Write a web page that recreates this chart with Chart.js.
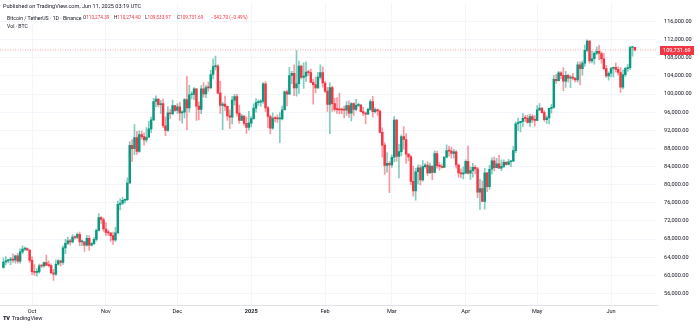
<!DOCTYPE html>
<html>
<head>
<meta charset="utf-8">
<title>Bitcoin / TetherUS 1D</title>
<script src="https://cdn.jsdelivr.net/npm/chart.js@4.4.1/dist/chart.umd.min.js"></script>
<style>
  body { margin: 0; background: #fff; font-family: Roboto, "Liberation Sans", sans-serif; color: #131722; }
  #wrap { position: relative; width: 700px; height: 330px; overflow: hidden; }
  #chart { position: absolute; left: 0; top: 0; }
  .published { position: absolute; left: 3px; top: 3px; font-size: 5.6px; white-space: nowrap; }
  .legend span { position: absolute; top: 14px; font-size: 5.2px; line-height: 8px; white-space: nowrap; }
  .legend .ohlc { font-size: 4.7px; }
  .legend .v { color: #f23645; font-style: normal; }
  .legend .vol { top: 22px; }
  .footer { position: absolute; left: 3px; top: 315px; font-size: 5.6px; white-space: nowrap; }
  .footer b { font-weight: 900; letter-spacing: -0.3px; margin-right: 2px; }
</style>
</head>
<body>
<div id="wrap">
  <canvas id="chart" width="700" height="330"></canvas>
  <div class="published">Published on TradingView.com, Jun 11, 2025 03:19 UTC</div>
  <div class="legend">
    <span style="left:7px">Bitcoin / TetherUS · 1D · Binance</span>
    <span class="ohlc" style="left:83px">O<i class="v">110,274.39</i></span>
    <span class="ohlc" style="left:114px">H<i class="v">110,274.40</i></span>
    <span class="ohlc" style="left:145px">L<i class="v">109,533.97</i></span>
    <span class="ohlc" style="left:177px">C<i class="v">109,731.69</i></span>
    <span class="ohlc v" style="left:211px">−542.70 (−0.49%)</span>
    <span class="vol" style="left:7px">Vol · BTC</span>
  </div>
  <div class="footer"><b>TV</b>TradingView</div>
</div>
<script>
// BTCUSDT daily candles, 2024-09-19 .. 2025-06-11
const firstDay = '2024-09-19';

const opens = [
  61760, 62950, 63190, 63350, 63580, 63340, 64300, 63140, 65180, 65790, 65890, 65600,
  63300, 60810, 60650, 60750, 62080, 62060, 62820, 62220, 62130, 60580, 60270, 62450, 63190, 62850, 66050, 67040, 67610, 67400, 68420, 68360, 69030, 67380, 67420, 66680, 68160, 66640, 67010, 67930, 69910, 72720, 72330,
  70220, 69480, 69370, 68750, 67810, 69380, 75640, 75900, 76550, 76680, 80370, 88700, 87950, 90380, 87320, 91060, 90590, 89850, 90460, 92310, 94290, 98350, 98890, 97670, 97900, 93010, 91970, 95860, 95640, 97460,
  96410, 97190, 95840, 96000, 98770, 96950, 99830, 99920, 101170, 97330, 96590, 101130, 100000, 101420, 101370, 104300, 106030, 106140, 100200, 97460, 97780, 97290, 95190, 94880, 98670, 99430, 95790, 94160, 95160, 93530, 92640,
  93580, 94590, 96890, 98110, 98230, 98360, 102240, 96950, 95040, 92480, 94700, 94570, 94510, 94520, 96530, 100500, 99990, 104080, 104560, 101340, 102260, 106140, 103650, 103960, 104820, 104710, 102580, 102080, 101330, 103730, 104730,
  102430, 100640, 97690, 101400, 97870, 96620, 96550, 96500, 96470, 96450, 97430, 95780, 97870, 96620, 97510, 97570, 96120, 95770, 95540, 96630, 98330, 96130, 96580, 96250, 91550, 88740, 84250, 84710,
  84350, 86060, 94270, 86220, 87280, 90600, 89960, 86740, 86150, 80730, 78600, 82860, 83720, 81070, 83970, 84340, 82580, 84080, 82720, 86850, 84170, 84040, 83830, 86080, 87500, 87390, 86900, 87230, 84350, 82600, 82390,
  82550, 85160, 82520, 83100, 83840, 83500, 78370, 79140, 76320, 82620, 79590, 83400, 85290, 83760, 84590, 83640, 84030, 84940, 84450, 85060, 85170, 87520, 93440, 93700, 93980, 94640, 94630, 93750, 95030, 94260,
  94170, 96490, 96910, 95890, 94320, 94750, 96820, 97030, 103240, 102970, 104700, 104110, 102810, 104130, 103490, 103760, 103480, 103130, 106450, 105580, 106830, 109630, 111670, 107290, 107790, 109000, 109430, 108940, 107780, 105590, 103980,
  104590, 105640, 105880, 105430, 104750, 101510, 104290, 105610, 105790, 110260, 110274.39
];

const highs = [
  63850, 64130, 63560, 64000, 64750, 64480, 64820, 65840, 66500, 66260, 66080, 65620,
  64130, 62390, 61470, 62480, 62370, 62980, 64480, 63200, 62540, 61320, 63420, 63480, 63290, 66500, 67950, 68420, 67940, 68970, 68700, 69400, 69520, 67840, 67470, 68850, 68780, 67310, 68340, 70270, 73620, 72960, 72700,
  71630, 69970, 69390, 69560, 70570, 76400, 76880, 77200, 76890, 81500, 89530, 89960, 93270, 91790, 91860, 91800, 91450, 92590, 94000, 94900, 99070, 99590, 98940, 98590, 98870, 94970, 97210, 96650, 98690, 97460,
  97900, 98150, 96300, 99000, 103900, 101900, 100550, 101400, 101220, 98270, 101890, 102540, 101900, 102650, 105250, 107780, 108350, 106500, 102800, 98150, 99540, 97360, 96540, 99500, 99960, 99960, 97540, 95530, 95250, 94900, 96160,
  95000, 97840, 98980, 98730, 98800, 102500, 102720, 97260, 95350, 95840, 95020, 95400, 95900, 97370, 100680, 100870, 105870, 104990, 106420, 109590, 107250, 106390, 106880, 107120, 105280, 105500, 103220, 103780, 104800, 106460, 106010,
  102780, 101460, 102500, 101730, 99090, 99200, 100140, 96880, 97320, 98350, 98500, 98120, 98100, 98830, 97970, 97730, 97050, 96000, 96900, 98760, 99500, 96950, 96670, 96500, 92540, 89290, 87080, 85120,
  86560, 95000, 94420, 88900, 91000, 92810, 91280, 86880, 86500, 84120, 83620, 84360, 84300, 85300, 84670, 85120, 84760, 84100, 87450, 87440, 84850, 84560, 86100, 88770, 88540, 88290, 87790, 87520, 84560, 83510, 83940,
  85490, 88500, 83930, 84720, 84230, 83820, 81240, 80870, 83590, 82700, 84250, 85900, 86100, 85800, 86500, 85500, 85470, 85100, 85600, 85320, 88460, 93880, 94700, 94000, 95760, 95300, 95350, 95600, 95460, 95230,
  97440, 97900, 96950, 96330, 95200, 96920, 97730, 104150, 104360, 104980, 104940, 105820, 104990, 104360, 104150, 104560, 103710, 107110, 107110, 107320, 110800, 111980, 111800, 109450, 109320, 110420, 110720, 109300, 108910, 106320, 104900,
  105880, 105970, 106800, 105990, 105910, 105330, 105970, 106490, 110530, 110400, 110274.40
];

const lows = [
  61560, 62350, 62760, 62360, 62880, 62700, 62700, 62670, 64800, 65420, 65420, 62860,
  60170, 60000, 59830, 60460, 61680, 61790, 62130, 61860, 60300, 58900, 60000, 62240, 62060, 62420, 64800, 66750, 66670, 67140, 68000, 68100, 66570, 66570, 65260, 66450, 65520, 66520, 66800, 67560, 69730, 71430, 69680,
  68780, 68820, 67480, 66800, 67460, 69300, 74460, 75590, 75930, 76500, 80220, 85070, 86620, 86670, 87100, 90060, 88720, 89380, 90370, 91500, 94100, 97180, 97130, 95730, 92600, 90790, 91740, 94610, 95380, 96160,
  95700, 94200, 93580, 94660, 92120, 95980, 98940, 98770, 94150, 94260, 95660, 99310, 99210, 100610, 101230, 103320, 105320, 100000, 95700, 92130, 96400, 94200, 92400, 93400, 97590, 95140, 93500, 94120, 93050, 91320, 92000,
  92730, 94400, 96020, 97510, 97260, 97900, 96130, 92500, 91200, 92200, 93840, 93710, 89260, 94300, 96460, 97350, 99950, 102280, 99650, 99550, 100120, 103340, 101210, 102750, 104100, 102520, 97780, 100270, 101260, 103310, 101560,
  100280, 96150, 91230, 96150, 96210, 95700, 95620, 95690, 94750, 95260, 94850, 94090, 95220, 96250, 97230, 96050, 95210, 93390, 95440, 96390, 94870, 95770, 95260, 91350, 86050, 82260, 82720, 78260,
  83800, 85040, 85120, 81500, 86340, 87850, 84670, 85220, 80000, 77460, 76600, 80100, 79940, 80800, 83630, 82030, 82460, 81130, 82600, 83650, 83180, 83650, 83770, 85910, 86310, 85860, 85840, 83650, 81650, 81570, 81280,
  82430, 82320, 81160, 81660, 82370, 77150, 74500, 76240, 74620, 78460, 78970, 82300, 83030, 83680, 83600, 83110, 83740, 84330, 84330, 83950, 85140, 87080, 91940, 91660, 92860, 93890, 93590, 92800, 93730, 92910,
  94130, 96360, 95760, 93960, 93510, 93380, 95790, 96900, 102320, 102820, 103350, 100720, 101430, 102600, 101380, 103100, 102620, 102620, 102000, 104180, 106100, 109300, 106800, 106860, 106600, 108670, 107550, 106810, 105320, 103680, 103070,
  103800, 103700, 104880, 104160, 100370, 101100, 103900, 104960, 105350, 108340, 109533.97
];

const closes = [
  62950, 63190, 63350, 63580, 63340, 64300, 63140, 65180, 65790, 65890, 65600, 63300,
  60810, 60650, 60750, 62080, 62060, 62820, 62220, 62130, 60580, 60270, 62450, 63190, 62850, 66050, 67040, 67610, 67400, 68420, 68360, 69030, 67380, 67420, 66680, 68160, 66640, 67010, 67930, 69910, 72720, 72330, 70220,
  69480, 69370, 68750, 67810, 69380, 75640, 75900, 76550, 76680, 80370, 88700, 87950, 90380, 87320, 91060, 90590, 89850, 90460, 92310, 94290, 98350, 98890, 97670, 97900, 93010, 91970, 95860, 95640, 97460, 96410,
  97190, 95840, 96000, 98770, 96950, 99830, 99920, 101170, 97330, 96590, 101130, 100000, 101420, 101370, 104300, 106030, 106140, 100200, 97460, 97780, 97290, 95190, 94880, 98670, 99430, 95790, 94160, 95160, 93530, 92640, 93580,
  94590, 96890, 98110, 98230, 98360, 102240, 96950, 95040, 92480, 94700, 94570, 94510, 94520, 96530, 100500, 99990, 104080, 104560, 101340, 102260, 106140, 103650, 103960, 104820, 104710, 102580, 102080, 101330, 103730, 104730, 102430,
  100640, 97690, 101400, 97870, 96620, 96550, 96500, 96470, 96450, 97430, 95780, 97870, 96620, 97510, 97570, 96120, 95770, 95540, 96630, 98330, 96130, 96580, 96250, 91550, 88740, 84250, 84710, 84350,
  86060, 94270, 86220, 87280, 90600, 89960, 86740, 86150, 80730, 78600, 82860, 83720, 81070, 83970, 84340, 82580, 84080, 82720, 86850, 84170, 84040, 83830, 86080, 87500, 87390, 86900, 87230, 84350, 82600, 82390, 82550,
  85160, 82520, 83100, 83840, 83500, 78370, 79140, 76320, 82620, 79590, 83400, 85290, 83760, 84590, 83640, 84030, 84940, 84450, 85060, 85170, 87520, 93440, 93700, 93980, 94640, 94630, 93750, 95030, 94260, 94170,
  96490, 96910, 95890, 94320, 94750, 96820, 97030, 103240, 102970, 104700, 104110, 102810, 104130, 103490, 103760, 103480, 103130, 106450, 105580, 106830, 109630, 111670, 107290, 107790, 109000, 109430, 108940, 107780, 105590, 103980, 104590,
  105640, 105880, 105430, 104750, 101510, 104290, 105610, 105790, 110260, 110270, 109731.69
];

// axis ticks
const priceTicks = [56000, 60000, 64000, 68000, 72000, 76000, 80000, 84000, 88000, 92000, 96000, 100000, 104000, 108000, 112000, 116000];
const monthDates = ['2024-10-01', '2024-11-01', '2024-12-01', '2025-01-01', '2025-02-01', '2025-03-01', '2025-04-01', '2025-05-01', '2025-06-01'];
const monthLabels = ['Oct', 'Nov', 'Dec', '2025', 'Feb', 'Mar', 'Apr', 'May', 'Jun'];

const UP = '#089981';
const DOWN = '#f23645';

const dayIndex = d => Math.round((Date.parse(d) - Date.parse(firstDay)) / 86400000);
const monthTicks = monthDates.map(dayIndex);
const lastClose = closes[closes.length - 1];

const xMin = -1.45, xMax = 274.3;
const yMin = 53460, yMax = 120000;

const isUp = closes.map((c, i) => c >= opens[i]);
const bodyColors = isUp.map(u => u ? UP : DOWN);
const wickColors = isUp.map(u => u ? 'rgba(8,153,129,0.5)' : 'rgba(242,54,69,0.5)');

const fmt = v => v.toLocaleString('en-US', { minimumFractionDigits: 2, maximumFractionDigits: 2 });
const fontFamily = 'Roboto, "Liberation Sans", sans-serif';

// red tag with the last price on the right scale
const lastPriceTag = {
  id: 'lastPriceTag',
  afterDraw(chart) {
    const { ctx, chartArea } = chart;
    const y = Math.round(chart.scales.y.getPixelForValue(lastClose));
    ctx.save();
    ctx.fillStyle = DOWN;
    ctx.fillRect(chartArea.right + 3, y - 4, 34, 9);
    ctx.fillStyle = '#fff';
    ctx.font = '5.6px ' + fontFamily;
    ctx.textBaseline = 'middle';
    ctx.textAlign = 'left';
    ctx.fillText(fmt(lastClose), chartArea.right + 6, y + 0.5);
    ctx.restore();
  }
};

new Chart(document.getElementById('chart'), {
  data: {
    datasets: [
      {
        type: 'bar',
        label: 'wick',
        data: opens.map((o, i) => ({ x: i, y: [lows[i], highs[i]] })),
        backgroundColor: wickColors,
        barThickness: 1,
        grouped: false,
        order: 2
      },
      {
        type: 'bar',
        label: 'body',
        data: opens.map((o, i) => ({ x: i, y: [o, closes[i]] })),
        backgroundColor: bodyColors,
        barThickness: 1.8,
        minBarLength: 1,
        grouped: false,
        order: 1
      },
      {
        type: 'line',
        label: 'last',
        data: [{ x: xMin, y: lastClose }, { x: xMax, y: lastClose }],
        borderColor: 'rgba(242,54,69,0.45)',
        borderWidth: 1,
        borderDash: [1, 1.5],
        pointRadius: 0,
        order: 3
      }
    ]
  },
  options: {
    responsive: false,
    animation: false,
    events: [],
    layout: { padding: { left: 0, right: 0, top: 0, bottom: 13 } },
    plugins: { legend: { display: false }, tooltip: { enabled: false } },
    scales: {
      x: {
        type: 'linear',
        offset: false,
        min: xMin,
        max: xMax,
        afterBuildTicks: s => { s.ticks = monthTicks.map(v => ({ value: v })); },
        afterFit: s => { s.height = 12; },
        grid: { color: '#f3f5fa', drawTicks: false, offset: false },
        border: { display: true, color: '#e0e3eb' },
        ticks: {
          padding: 3,
          autoSkip: false,
          maxRotation: 0,
          color: '#131722',
          font: c => ({ size: 5.6, family: fontFamily, weight: c.index === 3 ? 'bold' : 'normal' }),
          callback: (v, i) => monthLabels[i]
        }
      },
      y: {
        position: 'right',
        min: yMin,
        max: yMax,
        afterBuildTicks: s => { s.ticks = priceTicks.map(v => ({ value: v })); },
        afterFit: s => { s.width = 43; },
        grid: { color: '#f3f5fa', drawTicks: true, tickLength: 7, tickColor: 'rgba(0,0,0,0)' },
        border: { display: false },
        ticks: {
          padding: 0,
          color: '#131722',
          font: { size: 5.6, family: fontFamily },
          callback: v => fmt(v)
        }
      }
    }
  },
  plugins: [lastPriceTag]
});
</script>
</body>
</html>
